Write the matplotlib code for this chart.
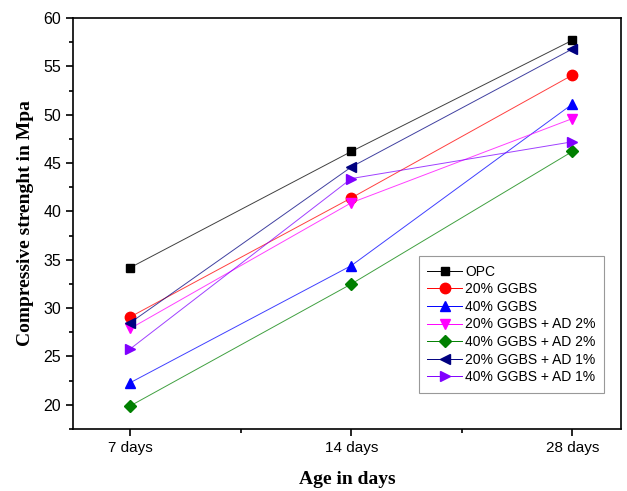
import numpy as np
import matplotlib.pyplot as plt
from matplotlib.ticker import MultipleLocator, FixedLocator

ages = ["7 days", "14 days", "28 days"]

opc = [34.2, 46.2, 57.7]
ggbs20 = [29.1, 41.4, 54.1]
ggbs40 = [22.3, 34.4, 51.1]
ggbs20_ad2 = [27.9, 40.9, 49.6]
ggbs40_ad2 = [19.9, 32.5, 46.2]
ggbs20_ad1 = [28.5, 44.6, 56.8]
ggbs40_ad1 = [25.8, 43.4, 47.2]

labels = ["OPC", "20% GGBS", "40% GGBS", "20% GGBS + AD 2%",
          "40% GGBS + AD 2%", "20% GGBS + AD 1%", "40% GGBS + AD 1%"]
colors = ["black", "red", "blue", "magenta", "green", "navy", "#8000ff"]
markers = ["s", "o", "^", "v", "D", "<", ">"]

plt.rcParams["font.family"] = ["Liberation Sans", "DejaVu Sans"]

fig = plt.figure(figsize=(6.27, 4.91), dpi=100)
ax = fig.add_axes([0.1164, 0.1263, 0.8740, 0.8370])

x = np.arange(len(ages))
series = [opc, ggbs20, ggbs40, ggbs20_ad2, ggbs40_ad2, ggbs20_ad1, ggbs40_ad1]
handles = []
for y, lab, c, m in zip(series, labels, colors, markers):
    ms = 6 if m in ("s", "D") else 7.5
    ax.plot(x, y, color=c, lw=0.7, alpha=0.75)
    ax.plot(x, y, ls="none", marker=m, ms=ms, color=c)
    # proxy artist for the legend
    h, = ax.plot([], [], color=c, lw=0.7, marker=m, ms=ms, label=lab)
    handles.append(h)

ax.set_xlim(-0.26, 2.22)
ax.set_ylim(17.5, 60)
ax.set_xticks(x)
ax.set_xticklabels(ages, fontsize=11)
ax.xaxis.set_minor_locator(FixedLocator([0.5, 1.5]))
ax.yaxis.set_major_locator(MultipleLocator(5))
ax.yaxis.set_minor_locator(MultipleLocator(2.5))
ax.tick_params(axis="y", labelsize=11.5)
ax.tick_params(which="major", direction="out", length=5, width=1.2)
ax.tick_params(which="minor", direction="out", length=3, width=1.2)
for s in ax.spines.values():
    s.set_linewidth(1.2)

ax.set_xlabel("Age in days", family="Liberation Serif", fontweight="bold",
              fontsize=14, labelpad=12)
ax.set_ylabel("Compressive strenght in Mpa", family="Liberation Serif",
              fontweight="bold", fontsize=14, labelpad=7)

leg = ax.legend(handles=handles, loc="lower right",
                bbox_to_anchor=(0.969, 0.088), borderaxespad=0,
                fontsize=10, frameon=True, fancybox=False, edgecolor="gray",
                handlelength=2.5, handletextpad=0.2, labelspacing=0.26,
                borderpad=0.62)
leg.get_frame().set_linewidth(0.8)

fig.savefig("out.png", dpi=100)
